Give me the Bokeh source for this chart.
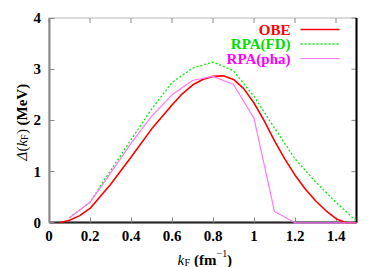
from bokeh.plotting import figure
from bokeh.models import FixedTicker, Label, Range1d, Arrow, BoxAnnotation
from bokeh.embed import file_html
from bokeh.resources import INLINE

# ---------------- data ----------------
kf_obe = [0.05, 0.1, 0.15, 0.2, 0.3, 0.4, 0.5, 0.6, 0.65, 0.7, 0.75, 0.8, 0.85, 0.9,
          0.95, 1.0, 1.05, 1.1, 1.15, 1.2, 1.25, 1.3, 1.35, 1.4, 1.45, 1.5]
gap_obe = [0.0, 0.05, 0.14, 0.28, 0.75, 1.28, 1.83, 2.3, 2.52, 2.69, 2.8, 2.86, 2.87, 2.8,
           2.62, 2.34, 1.99, 1.6, 1.25, 0.93, 0.66, 0.43, 0.24, 0.08, 0.0, 0.0]

kf_rpa = [0.1, 0.2, 0.3, 0.4, 0.5, 0.6, 0.7, 0.8, 0.9, 1.0, 1.1, 1.2, 1.3, 1.4, 1.5]
gap_fd = [0.1, 0.4, 1.02, 1.62, 2.22, 2.74, 3.02, 3.14, 2.97, 2.47, 1.85, 1.25, 0.8, 0.4, 0.03]
gap_pha = [0.1, 0.4, 0.97, 1.55, 2.08, 2.5, 2.78, 2.86, 2.7, 2.04, 0.22, 0.0, 0.0, 0.0, 0.0]

series_names = ["OBE", "RPA(FD)", "RPA(pha)"]
x_ticks = [0, 0.2, 0.4, 0.6, 0.8, 1.0, 1.2, 1.4]
x_tick_labels = ["0", "0.2", "0.4", "0.6", "0.8", "1", "1.2", "1.4"]
y_ticks = [0, 1, 2, 3, 4]

# ---------------- layout / style ----------------
W, H = 382, 267
XMIN, XMAX, YMIN, YMAX = 0, 1.5, 0, 4
# pixel positions of the plot box inside the figure
PX_L, PX_R, PX_T, PX_B = 48.5, 356.0, 17.5, 222.3
SX = (PX_R - PX_L) / (XMAX - XMIN)   # px per x unit
SY = (PX_B - PX_T) / (YMAX - YMIN)   # px per y unit
XR0, XR1 = XMIN - PX_L / SX, XMIN + (W - PX_L) / SX
YR0, YR1 = YMIN - (H - PX_B) / SY, YMIN + PX_B / SY

SERIF = "Liberation Serif"
RED, GREEN, MAG, PINK = "#ff0000", "#00ee00", "#ff00ff", "#ff77ff"
GRAY = "#888888"
TICK = 5


def wx2d(wx):
    return XMIN + (wx - PX_L) / SX


def wy2d(wy):
    return YMIN + (PX_B - wy) / SY


p = figure(width=W, height=H, x_range=Range1d(XR0, XR1), y_range=Range1d(YR0, YR1),
           output_backend="svg", toolbar_location=None,
           min_border=0, min_border_left=0, min_border_right=0,
           min_border_top=0, min_border_bottom=0)
p.grid.visible = False
p.outline_line_color = None
p.background_fill_color = "white"
p.border_fill_color = "white"

# plot box: gray left/top, black right/bottom
p.add_layout(BoxAnnotation(left=XMIN, right=XMAX, bottom=YMIN, top=YMAX,
                           fill_alpha=0, line_color=GRAY, line_width=2))
p.add_layout(Arrow(x_start=XMAX, y_start=YMIN, x_end=XMAX, y_end=YMAX, end=None,
                   line_color="black", line_width=2))


def style_axis(ax, line_color, ticks, bounds):
    ax.ticker = FixedTicker(ticks=ticks)
    ax.bounds = bounds
    ax.fixed_location = 0
    ax.axis_line_color = line_color
    ax.axis_line_width = 2
    ax.major_tick_line_color = GRAY
    ax.major_tick_line_width = 1
    ax.major_tick_in = TICK
    ax.major_tick_out = 0
    ax.minor_tick_line_color = None
    ax.major_label_text_font = SERIF
    ax.major_label_text_font_style = "bold"
    ax.major_label_text_color = "black"
    ax.major_label_text_font_size = "15px"
    ax.major_label_standoff = 8


xa = p.xaxis[0]
style_axis(xa, "black", x_ticks, (XMIN, XMAX))
xa.major_label_overrides = {float(t): s for t, s in zip(x_ticks, x_tick_labels)}
ya = p.yaxis[0]
style_axis(ya, GRAY, y_ticks, (YMIN, YMAX))

# tick marks on top and right edges
tick_dy = TICK / SY
tick_dx = TICK / SX
p.segment(x0=x_ticks, y0=[YMAX] * len(x_ticks), x1=x_ticks, y1=[YMAX - tick_dy] * len(x_ticks),
          line_color=GRAY, line_width=1)
p.segment(x0=[XMAX] * len(y_ticks), y0=y_ticks, x1=[XMAX - tick_dx] * len(y_ticks), y1=y_ticks,
          line_color=GRAY, line_width=1)

# ---------------- curves (drawn over the axis lines) ----------------
p.line(kf_obe, gap_obe, line_color=RED, line_width=1.6, level="overlay")
p.line(kf_rpa, gap_fd, line_color=GREEN, line_width=1.3, line_dash="2 2", level="overlay")
p.line(kf_rpa, gap_pha, line_color=PINK, line_width=1.2, level="overlay")

# ---------------- legend (text left of sample lines) ----------------
legend_colors = [RED, "#00dd00", MAG]
legend_line = [(RED, 1.6, "solid"), (GREEN, 1.3, "2 2"), (PINK, 1.2, "solid")]
legend_wy = [29, 43.5, 58]
for name, col, (lc, lw, ld), wy in zip(series_names, legend_colors, legend_line, legend_wy):
    p.add_layout(Label(x=wx2d(290), y=wy2d(wy), text=name, text_align="right",
                       text_baseline="middle", text_font=SERIF, text_font_style="bold",
                       text_font_size="15px", text_color=col))
    p.add_layout(Arrow(x_start=wx2d(300), y_start=wy2d(wy), x_end=wx2d(339), y_end=wy2d(wy),
                       end=None, line_color=lc, line_width=lw, line_dash=ld))

# ---------------- x axis label: k_F (fm^-1) ----------------
XLB = 259   # baseline (px from top)
for txt, wx, dy, size, style in [("k", 177, 0, "15px", "italic"),
                                 ("F", 184, 3, "10px", "normal"),
                                 ("(fm", 193.5, 0, "15px", "bold"),
                                 ("\u22121", 216, -6, "10px", "normal"),
                                 (")", 226.5, 0, "15px", "bold")]:
    p.add_layout(Label(x=wx2d(wx), y=wy2d(XLB + dy), text=txt, text_align="left",
                       text_baseline="alphabetic", text_font=SERIF, text_font_style=style,
                       text_font_size=size, text_color="black"))

# ---------------- y axis label: Delta(k_F) (MeV), rotated ----------------
for txt, wy, wx, size, style in [("\u0394", 160, 21, "15px", "italic"),
                                 ("(", 151, 21, "15px", "normal"),
                                 ("k", 146, 21, "15px", "italic"),
                                 ("F", 139.5, 24, "10px", "normal"),
                                 (")", 133.5, 21, "15px", "normal"),
                                 ("(MeV)", 125, 21, "15px", "bold")]:
    p.add_layout(Label(x=wx2d(wx), y=wy2d(wy), text=txt, angle=1.5707963267948966,
                       text_align="left", text_baseline="alphabetic", text_font=SERIF,
                       text_font_style=style, text_font_size=size, text_color="black"))

open("out.html", "w").write(file_html(p, INLINE))
